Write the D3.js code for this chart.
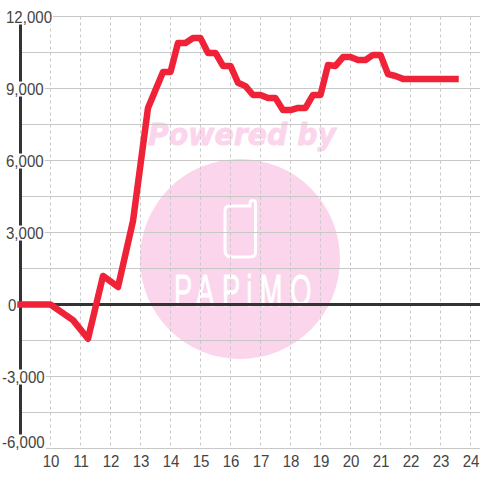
<!DOCTYPE html>
<html lang="en">
<head>
    <meta charset="UTF-8">
    <title>Line chart</title>
    <script src="https://d3js.org/d3.v7.min.js"></script>
    <style>
        html, body { margin: 0; padding: 0; background: #fff; }
        svg { display: block; font-family: "Liberation Sans", sans-serif; }
    </style>
</head>
<body>
    <svg width="480" height="480"></svg>
    <script>
        var hours = [9, 10, 10.75, 11.25, 11.75, 12.25, 12.75, 13.25, 13.75, 14, 14.25, 14.5, 14.75, 15,
            15.25, 15.5, 15.75, 16, 16.25, 16.5, 16.75, 17, 17.25, 17.5, 17.75, 18, 18.25, 18.5, 18.75, 19,
            19.25, 19.5, 19.75, 20, 20.25, 20.5, 20.75, 21, 21.25, 21.5, 21.75, 23.5];
        var values = [0, 0, -650, -1430, 1190, 730, 3480, 8190, 9690, 9690, 10900, 10900, 11100, 11100,
            10480, 10480, 9940, 9940, 9240, 9100, 8730, 8730, 8600, 8600, 8100, 8100, 8190, 8190, 8730, 8730,
            9980, 9940, 10310, 10310, 10190, 10190, 10400, 10400, 9600, 9520, 9400, 9400];
        var xTicks = [10, 11, 12, 13, 14, 15, 16, 17, 18, 19, 20, 21, 22, 23, 24];
        var yTicks = [12000, 9000, 6000, 3000, 0, -3000, -6000];
        var yGrid = [12000, 10500, 9000, 7500, 6000, 4500, 3000, 1500, 0, -1500, -3000, -4500, -6000];

        var svg = d3.select("svg");
        var x = d3.scaleLinear().domain([9, 24.33]).range([20.5, 480.4]);
        var y = d3.scaleLinear().domain([-6000, 12000]).range([448.5, 16.5]);
        // plain hyphen for negatives, like the original labels
        var fmt = d3.formatLocale({ decimal: ".", thousands: ",", grouping: [3], currency: ["", ""], minus: "-" }).format(",");

        // squeeze tall labels a bit so they keep the original widths
        function squeeze(sel) {
            sel.each(function() {
                var w = this.getComputedTextLength();
                d3.select(this).attr("textLength", w * 0.94).attr("lengthAdjust", "spacingAndGlyphs");
            });
        }

        // watermark sits under the grid
        var mark = svg.append("g");
        mark.append("circle").attr("cx", 240).attr("cy", 259).attr("r", 100).attr("fill", "#fbd5ec");
        mark.append("text")
            .attr("x", 148).attr("y", 145)
            .attr("font-family", "DejaVu Sans")
            .attr("font-size", 30)
            .attr("font-weight", "bold")
            .attr("font-style", "italic")
            .attr("textLength", 188)
            .attr("lengthAdjust", "spacingAndGlyphs")
            .attr("fill", "#fbd5ec")
            .attr("stroke", "#fbd5ec")
            .attr("stroke-width", 0.8)
            .text("Powered by");
        mark.append("path")
            .attr("d", "M229,206 H250 V203 Q250,200.5 253,200.5 Q255.5,200.5 255.5,203 V252 Q255.5,257 250,257 H231 Q225,257 225,250 V211 Q225,206 229,206 Z")
            .attr("fill", "none").attr("stroke", "#fff").attr("stroke-width", 3);
        mark.append("text")
            .attr("transform", "translate(173,305.5) scale(.62,1)")
            .attr("x", "1.6 37 79 118 140 189")
            .attr("font-size", 44)
            .attr("fill", "#fff")
            .attr("stroke", "#fff")
            .attr("stroke-width", 0.8)
            .text("PAPiMO");

        // grid
        svg.append("g").selectAll("line").data(yGrid).enter().append("line")
            .attr("x1", 20).attr("x2", 480)
            .attr("y1", function(d) { return y(d); })
            .attr("y2", function(d) { return y(d); })
            .attr("stroke", "#c8c8c8").attr("stroke-width", 1);
        svg.append("g").selectAll("line").data(xTicks).enter().append("line")
            .attr("x1", function(d) { return x(d); })
            .attr("x2", function(d) { return x(d); })
            .attr("y1", y(12000)).attr("y2", y(-6000))
            .attr("stroke", "#c8c8c8").attr("stroke-width", 1).attr("stroke-dasharray", "3,3");

        // axes
        svg.append("line")
            .attr("x1", x(9)).attr("x2", 480)
            .attr("y1", y(0)).attr("y2", y(0))
            .attr("stroke", "#333").attr("stroke-width", 3);
        svg.append("line")
            .attr("x1", x(9)).attr("x2", x(9))
            .attr("y1", y(12000) + 7.5).attr("y2", y(-6000) - 12.5)
            .attr("stroke", "#333").attr("stroke-width", 3);

        var yAxis = svg.append("g")
            .call(d3.axisLeft(y).tickValues(yTicks).tickFormat(fmt).tickSize(0));
        yAxis.select(".domain").remove();
        yAxis.selectAll(".tick text")
            .attr("text-anchor", "start")
            .attr("font-family", "Liberation Sans")
            .attr("font-size", 16)
            .attr("fill", "#444")
            .attr("x", function(d) { return d < 0 ? 2 : (d == 0 ? 8 : 6); })
            .attr("y", function(d) { return d == -6000 ? -1.5 : 5.5; })
            .attr("dy", 0)
            .call(squeeze);
        // labels knock out the lines behind them
        yAxis.selectAll(".tick").each(function() {
            var t = d3.select(this).select("text");
            var b = t.node().getBBox();
            d3.select(this).insert("rect", "text")
                .attr("x", b.x - 1).attr("y", +t.attr("y") - 13)
                .attr("width", b.width + 2).attr("height", 15)
                .attr("fill", "#fff");
        });

        var xAxis = svg.append("g")
            .attr("transform", "translate(0,448.5)")
            .call(d3.axisBottom(x).tickValues(xTicks).tickFormat(d3.format("d")).tickSize(0));
        xAxis.select(".domain").remove();
        xAxis.selectAll(".tick text")
            .attr("font-family", "Liberation Sans")
            .attr("font-size", 16)
            .attr("fill", "#444")
            .attr("y", 18.5)
            .attr("dy", 0)
            .call(squeeze);

        // series
        var line = d3.line()
            .x(function(d) { return x(d); })
            .y(function(d, i) { return y(values[i]); });
        svg.append("path")
            .attr("d", line(hours))
            .attr("fill", "none")
            .attr("stroke", "#f02238")
            .attr("stroke-width", 6.5)
            .attr("stroke-linecap", "square")
            .attr("stroke-linejoin", "round");
    </script>
</body>
</html>
